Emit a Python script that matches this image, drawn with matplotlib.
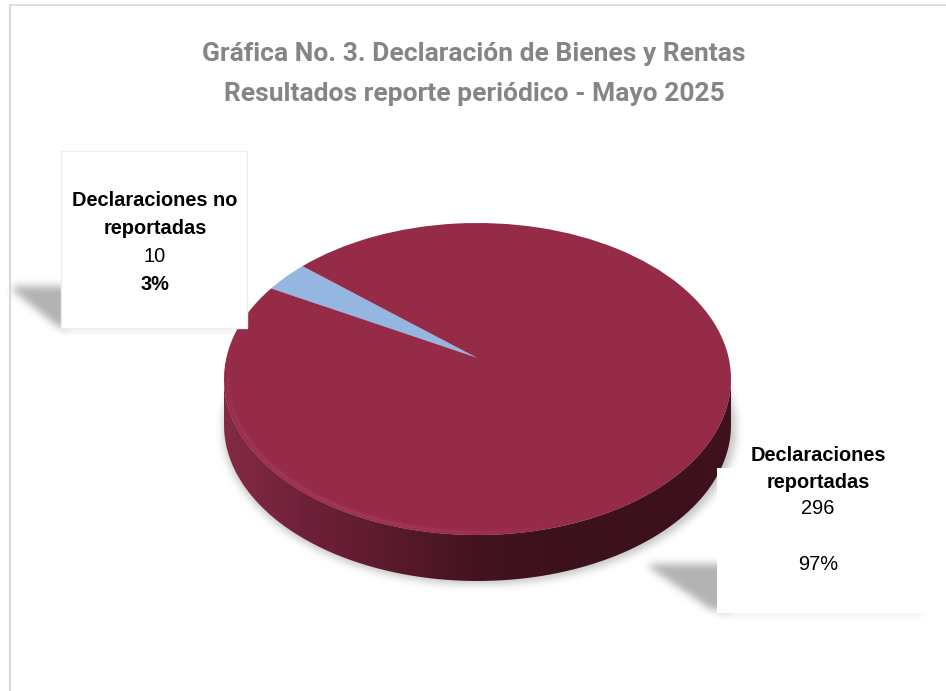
import numpy as np
import matplotlib
matplotlib.use("Agg")
import matplotlib.pyplot as plt
from matplotlib.collections import LineCollection
from matplotlib.colors import LinearSegmentedColormap
from matplotlib.patches import PathPatch, Polygon, Rectangle
from matplotlib.path import Path
from matplotlib.transforms import Transform

title_lines = ["Gráfica No. 3. Declaración de Bienes y Rentas",
               "Resultados reporte periódico - Mayo 2025"]
values = [10, 296]
name_lines = [["Declaraciones no", "reportadas"], ["Declaraciones", "reportadas"]]
percent_labels = ["3%", "97%"]
slice_colors = ["#95b6e0", "#962b48"]

W, H = 946, 691
LABEL_FONT = ["Liberation Sans"]
TITLE_FONT = ["Roboto"]

# top-surface ellipse and side depth, in pixels
X0, X1, Y0, Y1 = 224, 731, 223, 535
DEPTH = 46
APEX_SHIFT = 21

fig = plt.figure(figsize=(W / 100, H / 100), dpi=100, facecolor="white")


def pixel_axes(z):
    a = fig.add_axes([0, 0, 1, 1], zorder=z, facecolor="none")
    a.set_xlim(0, W)
    a.set_ylim(H, 0)
    a.axis("off")
    return a


def blurred(mask, radius):
    kernel = np.exp(-0.5 * (np.arange(-3 * radius, 3 * radius + 1) / radius) ** 2)
    kernel /= kernel.sum()
    out = np.apply_along_axis(lambda r: np.convolve(r, kernel, mode="same"), 0, mask)
    return np.apply_along_axis(lambda r: np.convolve(r, kernel, mode="same"), 1, out)


def show_shadow(a, mask, radius, strength):
    rgba = np.zeros((H, W, 4))
    rgba[..., :3] = 0.25
    rgba[..., 3] = blurred(mask.astype(float), radius) * strength
    a.imshow(rgba, extent=(0, W, H, 0), aspect="auto", interpolation="bilinear", zorder=1)
    a.set_xlim(0, W)
    a.set_ylim(H, 0)


# ---------- background layer: frame and shadows ----------
bg = pixel_axes(0)
yy, xx = np.mgrid[0:H, 0:W]
cx, cy = (X0 + X1) / 2, (Y0 + Y1) / 2
rx, ry = (X1 - X0) / 2, (Y1 - Y0) / 2

pie_shadow = ((xx - cx - 1) / (rx + 3)) ** 2 + ((yy - cy - DEPTH - 3) / ry) ** 2 < 1
show_shadow(bg, pie_shadow, 4, 0.3)
left_tri = (yy > 285) & (yy < 327) & (xx < 70) & (xx > 12) & ((yy - 290) < (xx - 12) * 0.8)
show_shadow(bg, left_tri, 4, 0.4)
right_tri = (yy > 563) & (yy < 610) & (xx < 730) & (xx > 648) & ((yy - 567) < (xx - 648) * 0.68)
show_shadow(bg, right_tri, 4, 0.4)
box_bottoms = ((yy > 328) & (yy < 332) & (xx > 61) & (xx < 250)) | \
              ((yy > 612) & (yy < 616) & (xx > 717) & (xx < 920))
show_shadow(bg, box_bottoms, 3, 0.14)

bg.plot([9.5, 9.5], [4.5, H], color="#d9d9d9", lw=1.5, solid_capstyle="butt", zorder=3)
bg.plot([9, W], [4.5, 4.5], color="#d9d9d9", lw=1.2, solid_capstyle="butt", zorder=3)

# ---------- pie layer ----------
ax = fig.add_axes([X0 / W, 1 - (Y1 + DEPTH) / H, (X1 - X0) / W, (Y1 + DEPTH - Y0) / H],
                  zorder=1, facecolor="none")
depth = DEPTH / ry


class DiscPerspective(Transform):
    """Disc automorphism: keeps the rim on the ellipse, moves the apex off-centre."""
    input_dims = output_dims = 2
    has_inverse = False

    def __init__(self, p):
        super().__init__()
        self.p = p

    def transform_non_affine(self, v):
        v = np.asarray(v, float)
        x, y = v[:, 0], v[:, 1]
        d = 1 + self.p * y
        return np.column_stack([x * np.sqrt(1 - self.p ** 2) / d, (y + self.p) / d])


# side band
theta = np.linspace(np.pi, 2 * np.pi, 200)
sx, sy = np.cos(theta), np.sin(theta)
side_path = Path(np.r_[np.c_[sx, sy], np.c_[sx[::-1], sy[::-1] - depth], [[sx[0], sy[0]]]])
side_cmap = LinearSegmentedColormap.from_list(
    "side", ["#842a45", "#6e2039", "#5a1a2c", "#431320", "#3c111c", "#3c111c", "#3f121d"])
grad = ax.imshow(np.linspace(0, 1, 256)[None, :], cmap=side_cmap, aspect="auto",
                 extent=(-1, 1, -1 - depth, 0.1), zorder=1)
clip = PathPatch(side_path, transform=ax.transData, facecolor="none", edgecolor="none")
ax.add_patch(clip)
grad.set_clip_path(clip)

wedges, _ = ax.pie(values, colors=slice_colors, startangle=139.3, counterclock=True, radius=1,
                   wedgeprops={"linewidth": 0, "antialiased": True})
persp = DiscPerspective(APEX_SHIFT / ry)
for w in wedges:
    w.set_transform(persp + ax.transData)
    w.set_zorder(2)
    w.set_clip_on(False)
ax.set_aspect("auto")
ax.set_xlim(-1, 1)
ax.set_ylim(-1 - depth, 1)
ax.axis("off")

# soft bevel highlight along the front-left rim
ang = np.radians(np.linspace(176, 290, 120))
fade = np.sin(np.linspace(0.05, 1, len(ang) - 1) * np.pi) ** 0.8
for lw, alpha in [(5, 0.10), (3.2, 0.16), (1.6, 0.25)]:
    pts = np.c_[0.985 * np.cos(ang), 0.982 * np.sin(ang)]
    segs = np.stack([pts[:-1], pts[1:]], axis=1)
    colors = np.zeros((len(segs), 4))
    colors[:, :3] = matplotlib.colors.to_rgb("#b8466a")
    colors[:, 3] = alpha * fade
    ax.add_collection(LineCollection(segs, colors=colors, linewidths=lw, zorder=3))

# ---------- foreground layer: callouts and text ----------
fg = pixel_axes(2)
fg.add_patch(Polygon([(247, 255), (280, 277), (268, 290), (247, 303)],
                     closed=True, facecolor="white", edgecolor="none", zorder=1))
fg.add_patch(Rectangle((61, 151), 186, 177, facecolor="white", edgecolor="#e6f0f5", lw=1, zorder=2))
fg.add_patch(Rectangle((717, 468), 203, 145, facecolor="white", edgecolor="none", zorder=2))

for line, y in zip(title_lines, (54, 94)):
    fg.text(474, y, line, ha="center", va="center", family=TITLE_FONT, fontsize=19,
            fontweight="bold", color="#858585", zorder=5)

for i, (x, ys) in enumerate([(155, (200, 228, 256, 284)), (818, (455, 482, 509, 565))]):
    a, b = name_lines[i]
    for text, y, weight in [(a, ys[0], "bold"), (b, ys[1], "bold"), (str(values[i]), ys[2], "normal"),
                            (percent_labels[i], ys[3], "bold" if i == 0 else "normal")]:
        fg.text(x, y, text, ha="center", va="center", family=LABEL_FONT, fontsize=14.4,
                fontweight=weight, color="black", zorder=5)

fig.savefig("out.png", dpi=100, facecolor="white")
